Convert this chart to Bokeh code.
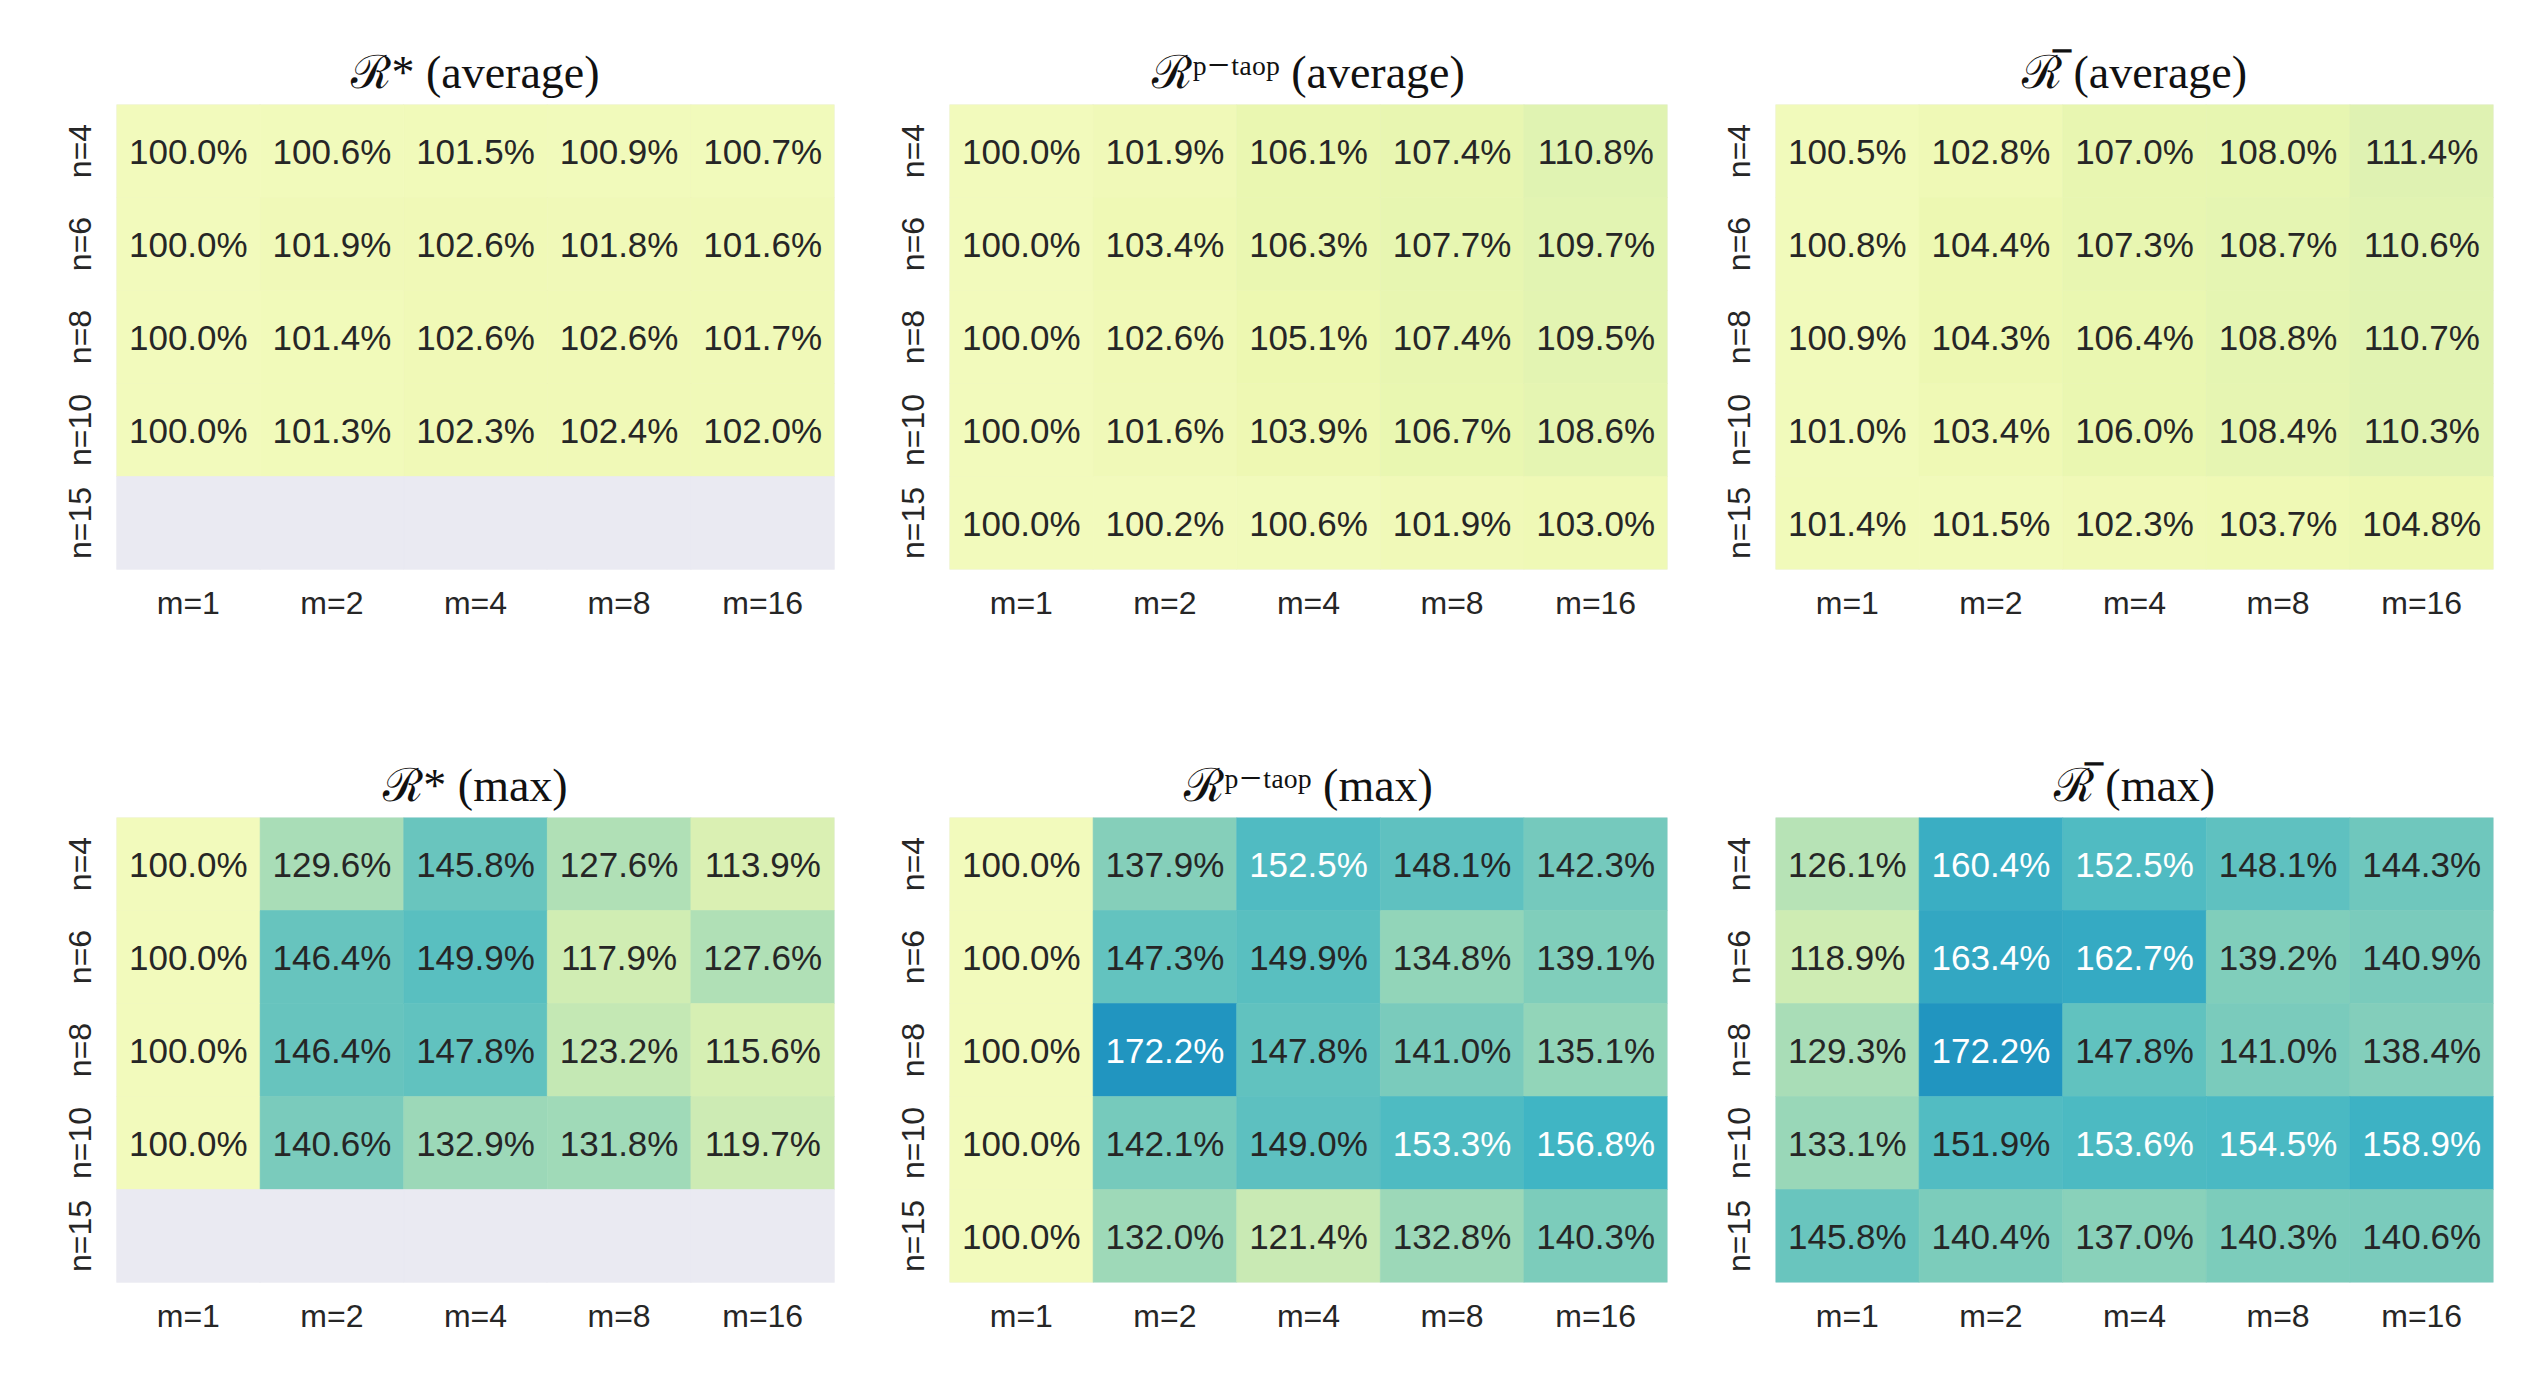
import numpy as np
from bokeh.plotting import figure
from bokeh.models import ColumnDataSource, LinearColorMapper, FactorRange
from bokeh.transform import transform
from bokeh.layouts import column, row
from bokeh.embed import file_html
from bokeh.resources import INLINE
from bokeh.core.properties import value

NaN = float("nan")

m_labels = ["m=1", "m=2", "m=4", "m=8", "m=16"]
n_labels = ["n=4", "n=6", "n=8", "n=10", "n=15"]

avg_star = [
    [100.0, 100.6, 101.5, 100.9, 100.7],
    [100.0, 101.9, 102.6, 101.8, 101.6],
    [100.0, 101.4, 102.6, 102.6, 101.7],
    [100.0, 101.3, 102.3, 102.4, 102.0],
    [NaN, NaN, NaN, NaN, NaN],
]
avg_ptaop = [
    [100.0, 101.9, 106.1, 107.4, 110.8],
    [100.0, 103.4, 106.3, 107.7, 109.7],
    [100.0, 102.6, 105.1, 107.4, 109.5],
    [100.0, 101.6, 103.9, 106.7, 108.6],
    [100.0, 100.2, 100.6, 101.9, 103.0],
]
avg_bar = [
    [100.5, 102.8, 107.0, 108.0, 111.4],
    [100.8, 104.4, 107.3, 108.7, 110.6],
    [100.9, 104.3, 106.4, 108.8, 110.7],
    [101.0, 103.4, 106.0, 108.4, 110.3],
    [101.4, 101.5, 102.3, 103.7, 104.8],
]
max_star = [
    [100.0, 129.6, 145.8, 127.6, 113.9],
    [100.0, 146.4, 149.9, 117.9, 127.6],
    [100.0, 146.4, 147.8, 123.2, 115.6],
    [100.0, 140.6, 132.9, 131.8, 119.7],
    [NaN, NaN, NaN, NaN, NaN],
]
max_ptaop = [
    [100.0, 137.9, 152.5, 148.1, 142.3],
    [100.0, 147.3, 149.9, 134.8, 139.1],
    [100.0, 172.2, 147.8, 141.0, 135.1],
    [100.0, 142.1, 149.0, 153.3, 156.8],
    [100.0, 132.0, 121.4, 132.8, 140.3],
]
max_bar = [
    [126.1, 160.4, 152.5, 148.1, 144.3],
    [118.9, 163.4, 162.7, 139.2, 140.9],
    [129.3, 172.2, 147.8, 141.0, 138.4],
    [133.1, 151.9, 153.6, 154.5, 158.9],
    [145.8, 140.4, 137.0, 140.3, 140.6],
]

titles = [
    "\u211b* (average)",
    "\u211b\u1d56\u207b\u1d57\u1d43\u1d52\u1d56 (average)",
    "\u211b\u0305 (average)",
    "\u211b* (max)",
    "\u211b\u1d56\u207b\u1d57\u1d43\u1d52\u1d56 (max)",
    "\u211b\u0305 (max)",
]

# YlGnBu, interpolated
ylgnbu = ["#ffffd9", "#edf8b1", "#c7e9b4", "#7fcdbb", "#41b6c4",
          "#1d91c0", "#225ea8", "#253494", "#081d58"]


def interp_colors(cols, n):
    rgb = np.array([[int(c[i:i + 2], 16) for i in (1, 3, 5)] for c in cols], dtype=float)
    pos = np.linspace(0, 1, len(cols))
    t = np.linspace(0, 1, n)
    out = []
    for tt in t:
        r = np.interp(tt, pos, rgb[:, 0])
        g = np.interp(tt, pos, rgb[:, 1])
        b = np.interp(tt, pos, rgb[:, 2])
        out.append("#%02x%02x%02x" % (int(round(r)), int(round(g)), int(round(b))))
    return out


palette = interp_colors(ylgnbu, 256)
mapper = LinearColorMapper(palette=palette, low=87.5, high=226.0, nan_color="#eaeaf2")

TICK_FONT = "Liberation Sans"
DARK = "#262626"


def panel(data, title, left, right, top, bottom):
    xs, ys, vals, labels, tcol = [], [], [], [], []
    for i, n in enumerate(n_labels):
        for j, m in enumerate(m_labels):
            v = data[i][j]
            xs.append(m)
            ys.append(n)
            vals.append(v)
            if np.isnan(v):
                labels.append("")
                tcol.append(DARK)
            else:
                labels.append(f"{v:.1f}%")
                tcol.append("#ffffff" if v > 152.2 else DARK)
    src = ColumnDataSource(dict(x=xs, y=ys, v=np.array(vals, dtype=float), t=labels, c=tcol))
    p = figure(x_range=FactorRange(*m_labels), y_range=FactorRange(*list(reversed(n_labels))),
               frame_width=718, frame_height=465,
               min_border_left=left, min_border_right=right,
               min_border_top=top, min_border_bottom=bottom,
               output_backend="svg", toolbar_location=None, title=title)
    p.rect("x", "y", 1, 1, source=src, fill_color=transform("v", mapper),
           line_color=transform("v", mapper), line_width=0.6)
    p.text("x", "y", text="t", text_color="c", source=src, text_align="center",
           text_baseline="middle", text_font=value(TICK_FONT), text_font_size="35px")

    p.title.text_font = "Liberation Serif, DejaVu Serif"
    p.title.text_font_style = "normal"
    p.title.text_font_size = "46px"
    p.title.text_color = "#111111"
    p.title.align = "center"
    p.title.standoff = 13

    for ax in (p.xaxis, p.yaxis):
        ax.axis_line_color = None
        ax.major_tick_line_color = None
        ax.minor_tick_line_color = None
        ax.major_label_text_font = TICK_FONT
        ax.major_label_text_font_size = "32px"
        ax.major_label_text_color = DARK
    p.xaxis.major_label_standoff = 9
    p.yaxis.major_label_standoff = 13
    p.yaxis.major_label_orientation = "vertical"
    p.xgrid.grid_line_color = None
    p.ygrid.grid_line_color = None
    p.outline_line_color = None
    p.background_fill_color = "#eaeaf2"
    p.border_fill_color = "white"
    return p


datas = [avg_star, avg_ptaop, avg_bar, max_star, max_ptaop, max_bar]
lr = [(116, 56), (59, 50), (54, 31)]
figs = []
for k, d in enumerate(datas):
    l, r = lr[k % 3]
    if k < 3:
        t, b = 104, 145
    else:
        t, b = 103, 86
    figs.append(panel(d, titles[k], l, r, t, b))

layout = column(row(*figs[:3]), row(*figs[3:]))

open("out.html", "w").write(file_html(layout, INLINE))
